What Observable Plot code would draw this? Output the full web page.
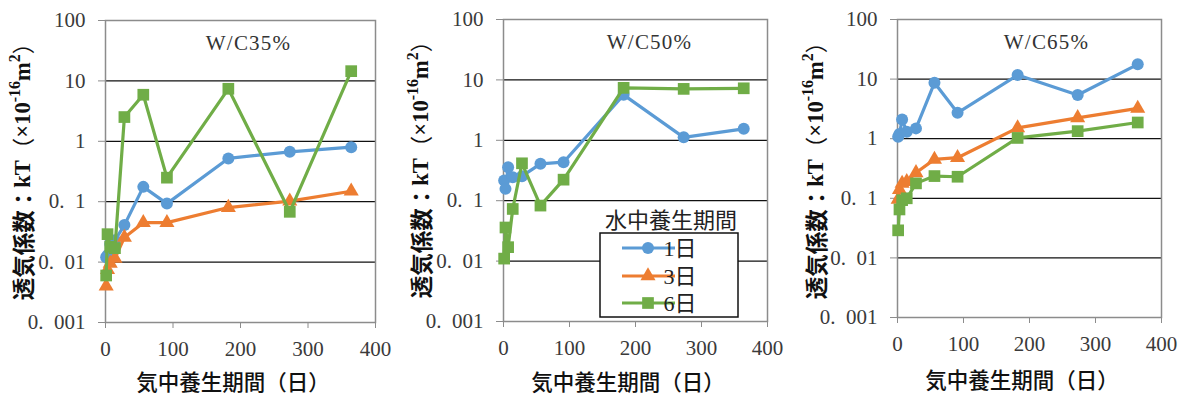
<!DOCTYPE html>
<html>
<head>
<meta charset="utf-8">
<script src="https://cdn.jsdelivr.net/npm/d3@7"></script>
<script src="https://cdn.jsdelivr.net/npm/@observablehq/plot@0.6"></script>
<style>
  body { margin: 0; background: #fff; }
  #chart { position: relative; width: 1181px; height: 394px; overflow: hidden; }
  #chart svg { position: absolute; top: 0; overflow: visible; }
</style>
</head>
<body>
<div id="chart"></div>
<script>
// Air-curing period (days)
const days = [1, 3, 7, 14, 28, 56, 91, 182, 273, 364];

// Water-curing period series
const seriesNames = ["1日", "3日", "6日"];
const seriesColors = ["#5B9BD5", "#ED7D31", "#70AD47"];

// Air permeability kT (×10^-16 m²), W/C 35%
const wc35Day1 = [0.012, 0.013, 0.02, 0.023, 0.041, 0.176, 0.093, 0.52, 0.67, 0.80];
const wc35Day3 = [0.004, 0.0075, 0.0095, 0.0115, 0.0256, 0.045, 0.045, 0.080, 0.102, 0.149];
const wc35Day6 = [0.006, 0.029, 0.018, 0.017, 2.52, 5.9, 0.25, 7.4, 0.068, 14.5];

// W/C 50%
const wc50Day1 = [0.216, 0.157, 0.359, 0.245, 0.255, 0.408, 0.434, 5.66, 1.12, 1.55];
const wc50Day6 = [0.011, 0.036, 0.017, 0.073, 0.416, 0.083, 0.223, 7.38, 7.1, 7.26];

// W/C 65%
const wc65Day1 = [1.08, 1.2, 2.1, 1.31, 1.49, 8.67, 2.72, 11.7, 5.4, 17.7];
const wc65Day3 = [0.096, 0.14, 0.178, 0.19, 0.268, 0.45, 0.48, 1.52, 2.24, 3.22];
const wc65Day6 = [0.029, 0.065, 0.093, 0.1, 0.178, 0.236, 0.23, 1.03, 1.34, 1.87];

const panelTitles = ["W/C35%", "W/C50%", "W/C65%"];
const yTicks = [0.001, 0.01, 0.1, 1, 10, 100];
const yTickLabels = ["0.\u2002001", "0.\u200201", "0.\u20021", "1", "10", "100"];
const xTicks = [0, 100, 200, 300, 400];
const xTitle = "気中養生期間（日）";
const legendTitle = "水中養生期間";

const panels = [
  { title: panelTitles[0], series: [wc35Day1, wc35Day3, wc35Day6],
    left: 0, width: 395, margin: [20, 20, 72, 105], titleDx: 8, yLab: [22, 166], xLab: [233, 380] },
  { title: panelTitles[1], series: [wc50Day1, null, wc50Day6],
    left: 395, width: 395, margin: [19, 23, 73, 108], titleDx: 14, yLab: [25, 164], xLab: [233, 380], legend: true },
  { title: panelTitles[2], series: [wc65Day1, wc65Day3, wc65Day6],
    left: 790, width: 391, margin: [19, 20, 77, 107], titleDx: 17, yLab: [25, 165], xLab: [232, 378] }
];

const symbols = ["circle", "triangle", "square"];
const radii = [6, 5.6, 6.6];
const tickFont = "'Liberation Serif', serif";
const cjkFont = "'Noto Sans CJK JP', sans-serif";

const chart = document.getElementById("chart");

panels.forEach((p) => {
  const [mt, mr, mb, ml] = p.margin;
  const marks = [
    Plot.ruleY([0.01, 0.1, 1, 10], { stroke: "#111", strokeWidth: 1.3 }),
    Plot.frame({ stroke: "#8c8c8c", strokeWidth: 1.5 }),
    Plot.axisY({
      ticks: yTicks, tickFormat: (d) => yTickLabels[yTicks.indexOf(d)],
      tickSize: 7, tickPadding: 13, stroke: "#8c8c8c", fill: "#3a3a3a",
      fontSize: 21, fontFamily: tickFont, label: null
    }),
    Plot.axisX({
      ticks: xTicks, tickFormat: (d) => String(d),
      tickSize: 6, tickPadding: 13, stroke: "#8c8c8c", fill: "#3a3a3a",
      fontSize: 21, fontFamily: tickFont, label: null
    }),
    Plot.text([p.title], {
      frameAnchor: "top", dx: p.titleDx, dy: 15, fontSize: 21,
      fontFamily: tickFont, fill: "#333", text: (d) => d
    })
  ];
  p.series.forEach((vals, i) => {
    if (!vals) return;
    const rows = days.map((d, k) => ({ day: d, value: vals[k] }));
    marks.push(Plot.line(rows, { x: "day", y: "value", stroke: seriesColors[i], strokeWidth: 3.2 }));
    marks.push(Plot.dot(rows, { x: "day", y: "value", symbol: symbols[i], r: radii[i], fill: seriesColors[i], stroke: "none" }));
  });

  const svg = Plot.plot({
    width: p.width, height: 394,
    marginTop: mt, marginRight: mr, marginBottom: mb, marginLeft: ml,
    x: { domain: [0, 400] },
    y: { type: "log", domain: [0.001, 100] },
    style: { background: "transparent", overflow: "visible" },
    marks
  });
  svg.style.left = p.left + "px";
  chart.appendChild(svg);

  const s = d3.select(svg);
  // letter spacing on the panel title
  s.selectAll("text").filter(function () { return this.textContent === p.title; })
    .attr("letter-spacing", 1.2);

  // y-axis title (rotated), with superscripts
  const yt = s.append("text")
    .attr("transform", `translate(${p.yLab[0]},${p.yLab[1]}) rotate(-90)`)
    .attr("text-anchor", "middle")
    .attr("dominant-baseline", "central")
    .attr("font-family", "'Liberation Serif', 'Noto Sans CJK JP', serif")
    .attr("font-weight", "bold")
    .attr("font-size", 22.5)
    .attr("fill", "#111");
  yt.append("tspan").attr("font-family", cjkFont).text("透気係数：");
  yt.append("tspan").text("kT");
  yt.append("tspan").attr("font-family", cjkFont).attr("font-weight", "normal").text("（");
  yt.append("tspan").text("×10");
  yt.append("tspan").attr("font-size", 16).attr("dy", -8).text("-16");
  yt.append("tspan").attr("dy", 8).text("m");
  yt.append("tspan").attr("font-size", 16).attr("dy", -8).text("2");
  yt.append("tspan").attr("dy", 8).attr("font-family", cjkFont).attr("font-weight", "normal").text("）");

  // x-axis title
  s.append("text")
    .attr("x", p.xLab[0]).attr("y", p.xLab[1])
    .attr("text-anchor", "middle")
    .attr("dominant-baseline", "central")
    .attr("font-family", cjkFont)
    .attr("font-weight", 500)
    .attr("font-size", 21.5)
    .attr("fill", "#111")
    .text(xTitle);

  if (p.legend) {
    const g = s.append("g");
    g.append("text")
      .attr("x", 276).attr("y", 218)
      .attr("text-anchor", "middle").attr("dominant-baseline", "central")
      .attr("font-family", cjkFont).attr("font-size", 22).attr("fill", "#222")
      .text(legendTitle);
    g.append("rect")
      .attr("x", 205).attr("y", 233).attr("width", 138).attr("height", 84)
      .attr("fill", "#fff").attr("stroke", "#111").attr("stroke-width", 1.5);
    const rowsY = [248, 276, 303];
    const symFns = [d3.symbolCircle, d3.symbolTriangle, d3.symbolSquare];
    seriesNames.forEach((name, i) => {
      const y = rowsY[i];
      g.append("line").attr("x1", 227).attr("x2", 280).attr("y1", y).attr("y2", y)
        .attr("stroke", seriesColors[i]).attr("stroke-width", 3.2);
      g.append("path")
        .attr("transform", `translate(253,${y})`)
        .attr("d", d3.symbol(symFns[i], Math.PI * radii[i] * radii[i])())
        .attr("fill", seriesColors[i]);
      g.append("text")
        .attr("x", 285).attr("y", y)
        .attr("dominant-baseline", "central")
        .attr("font-family", "'Liberation Serif', 'Noto Sans CJK JP', serif")
        .attr("font-size", 22).attr("fill", "#222")
        .text(name);
    });
  }
});
</script>
</body>
</html>
